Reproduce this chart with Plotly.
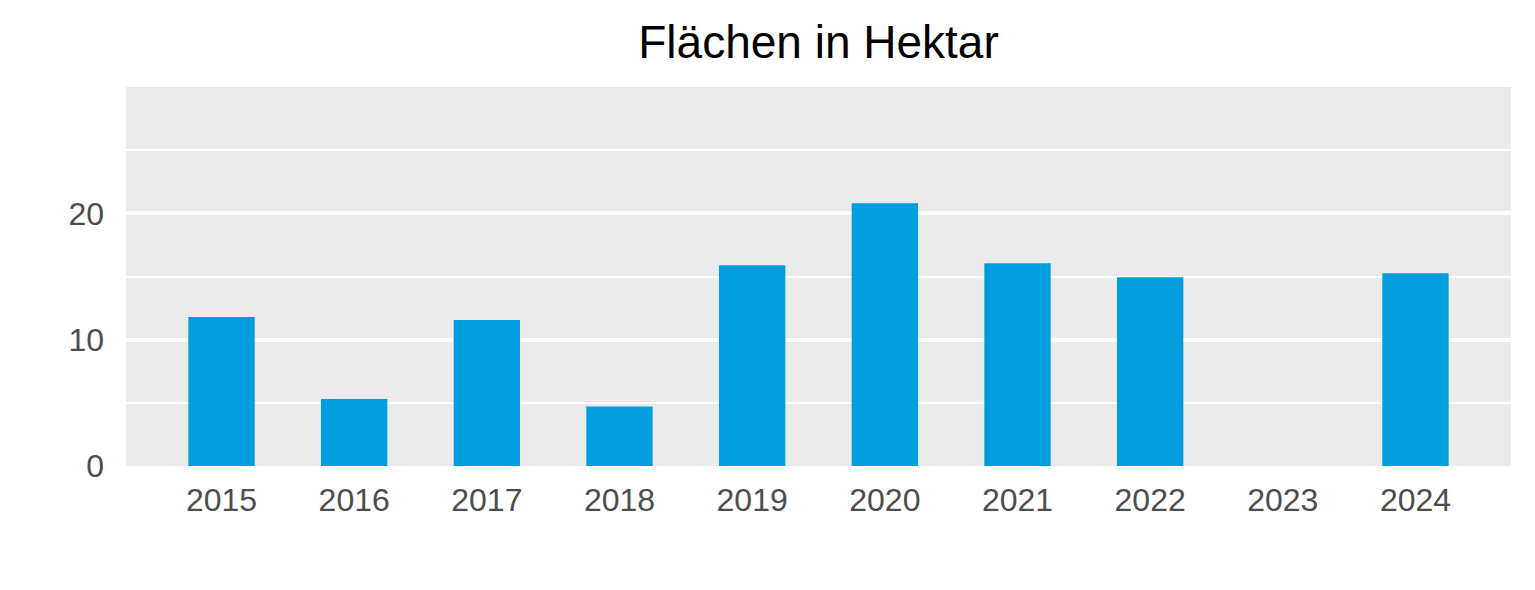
import plotly.graph_objects as go

years = ["2015", "2016", "2017", "2018", "2019", "2020", "2021", "2022", "2023", "2024"]
hectares = [11.8, 5.3, 11.55, 4.7, 15.9, 20.8, 16.05, 14.95, 0, 15.25]
y_ticks = [0, 10, 20]

fig = go.Figure(
    go.Bar(x=years, y=hectares, width=0.5, marker=dict(color="#009DDF", line=dict(width=0)))
)

fig.update_layout(
    width=1535, height=590,
    margin=dict(l=118, r=32, t=79, b=132),
    paper_bgcolor="white",
    plot_bgcolor="#EBEBEB",
    font=dict(family="Liberation Sans, Arial, sans-serif", color="#4D4D4D", size=32),
    title=dict(text="Flächen in Hektar", x=0.5, xref="paper", xanchor="center",
               y=0.942, yanchor="middle", yref="container",
               font=dict(size=46, color="black")),
    showlegend=False,
)
fig.update_xaxes(type="category", range=[-0.72, 9.72], showgrid=False, zeroline=False,
                 ticks="", ticklabelstandoff=12, showline=False)
fig.update_yaxes(range=[0, 30], tickvals=y_ticks, showgrid=True, gridcolor="white", gridwidth=3.5,
                 zeroline=False, ticks="", ticklabelstandoff=21, showline=False,
                 minor=dict(tickvals=[5, 15, 25], showgrid=True, gridcolor="white", gridwidth=1.8))

fig.write_html("out.html")
